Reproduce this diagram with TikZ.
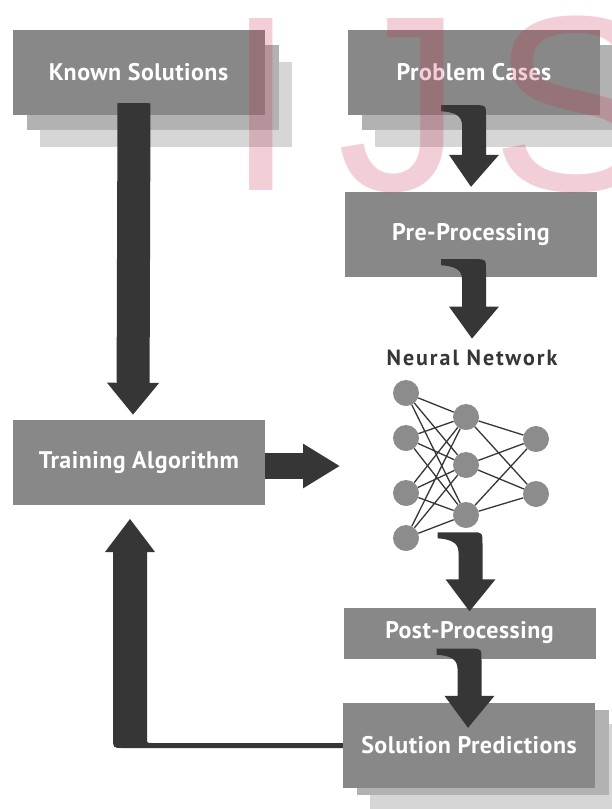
\documentclass[tikz,border=0pt]{standalone}
\usepackage{fontspec}
\newfontfamily\labelfont{PT Sans}[LetterSpace=2]
\newfontfamily\titlefont{PT Sans}[LetterSpace=9]
\newfontfamily\markfont{Liberation Sans}
\usetikzlibrary{positioning,calc,arrows.meta}

\definecolor{boxgray}{RGB}{136,136,136}
\definecolor{shadowA}{RGB}{178,178,178}
\definecolor{shadowB}{RGB}{214,214,214}
\definecolor{arrowgray}{RGB}{54,54,54}
\definecolor{unitgray}{RGB}{140,140,140}
\definecolor{markred}{RGB}{200,40,70}

\tikzset{
	stagebox/.style={fill=boxgray, text=white, font=\labelfont\bfseries\fontsize{24}{24}\selectfont,
		minimum width=252pt, minimum height=85pt, inner sep=0pt},
	unit/.style={circle, fill=unitgray, minimum size=26pt, inner sep=0pt},
	wire/.style={arrowgray, line width=1.3pt},
	bigarrow/.style={arrowgray, line width=#1, -{Triangle[length=32pt,width=50pt]}},
	bigarrow/.default=32pt,
}

% bent block arrow: #1 = top of the bend (shaft centre), #2 = tip
\newcommand{\hookarrow}[2]{%
	\fill[arrowgray] let \p1=(#1), \p2=(#2) in
		(\x1-33pt,\y1) -- (\x1+2pt,\y1) .. controls (\x1+12pt,\y1) .. (\x1+12pt,\y1-12pt)
		-- (\x1+12pt,\y2+32pt) -- (\x1+25pt,\y2+32pt) -- (\x2,\y2) -- (\x1-25pt,\y2+32pt)
		-- (\x1-12pt,\y2+32pt) -- (\x1-12pt,\y1-20pt)
		.. controls (\x1-12pt,\y1-10pt) and (\x1-20pt,\y1-7pt) .. (\x1-33pt,\y1-6pt) -- cycle;}

\begin{document}
\begin{tikzpicture}[x=1pt, y=-1pt]
	\useasboundingbox (0,0) rectangle (612,809);
	\fill[white] (0,0) rectangle (612,809);

	% stacked shadows
	\foreach \b in {(138.5,72.5), (474,72.5)} {
		\fill[shadowB] \b ++(-99,-10.5) rectangle ++(252,85);
		\fill[shadowA] \b ++(-112,-27.5) rectangle ++(252,85);
	}
	\fill[shadowB] (370,724) rectangle ++(252,85);
	\fill[shadowA] (357,710) rectangle ++(252,85);

	% stages
	\node[stagebox] (ks)    at (138.5,72.5) {Known Solutions};
	\node[stagebox] (pc)    at (474,72.5)   {Problem Cases};
	\node[stagebox] (pre)   at (471,234.5)  {Pre-Processing};
	\node[stagebox] (train) at (139,462.5)  {Training Algorithm};
	\node[stagebox, minimum height=51pt] (post) at (469.5,633) {Post-Processing};
	\node[stagebox] (sol)   at (469,745.5)  {Solution Predictions};

	\node[font=\titlefont\bfseries\fontsize{22}{22}\selectfont, text=arrowgray] (nn) at (472,358) {Neural Network};

	% network
	\foreach \i/\y in {1/393, 2/438, 3/493, 4/538}
		\node[unit] (in\i) at (406,\y) {};
	\foreach \j/\y in {1/417, 2/465, 3/515}
		\node[unit] (hid\j) at (466,\y) {};
	\foreach \k/\y in {1/439, 2/494}
		\node[unit] (out\k) at (536,\y) {};
	\foreach \i in {1,...,4}
		\foreach \j in {1,2,3}
			\draw[wire] (in\i) -- (hid\j);
	\foreach \j in {1,2,3}
		\foreach \k in {1,2}
			\draw[wire] (hid\j) -- (out\k);

	% arrows
	\coordinate (ks-out)   at ($(ks.south)+(-4.5,-12)$);
	\coordinate (train-in) at ($(train.north)+(-6,-5)$);
	\draw[bigarrow=33pt] (ks-out) -- (train-in);

	\coordinate (nn-in) at (340,466);
	\draw[arrowgray, line width=26pt, -{Triangle[length=37pt,width=42pt]}] ($(train.east)+(0,3.5)$) -- (nn-in);

	\hookarrow{$(pc.south)+(0,-10)$}{$(pre.north)+(0,-5)$}
	\hookarrow{$(pre.south)+(3,-18)$}{$(nn.north)+(0,-8)$}
	\hookarrow{$(post.north)+(1,-75)$}{$(post.north)+(0,4)$}
	\hookarrow{$(post.south)+(0,-10)$}{$(sol.north)+(-1,25)$}

	% feedback from the predictions
	\coordinate (fb-tip) at (130,519);
	\fill[arrowgray] let \p1=(sol.west), \p2=(fb-tip) in
		(\x1,\y1+2.5pt) -- (\x2+22pt,\y1+2.5pt) .. controls (\x2+17pt,\y1+2.5pt) .. (\x2+17pt,\y1+7.5pt)
		-- (\x2+17pt,\y2-33pt) -- (\x2+25pt,\y2-33pt) -- (\x2,\y2) -- (\x2-25pt,\y2-33pt)
		-- (\x2-17pt,\y2-33pt) -- (\x2-17pt,\y1+7.5pt)
		.. controls (\x2-17pt,\y1-2.5pt) .. (\x2-7pt,\y1-2.5pt) -- (\x1,\y1-2.5pt) -- cycle;

	% overprint
	\begin{scope}
		\clip (0,0) rectangle (612,809);
		\node[anchor=base west, inner sep=0pt, opacity=0.22, text=markred,
			font=\markfont\fontsize{250}{250}\selectfont] (ijs) at (226,190) {I\kern42pt J\kern29pt S};
	\end{scope}
\end{tikzpicture}
\end{document}
